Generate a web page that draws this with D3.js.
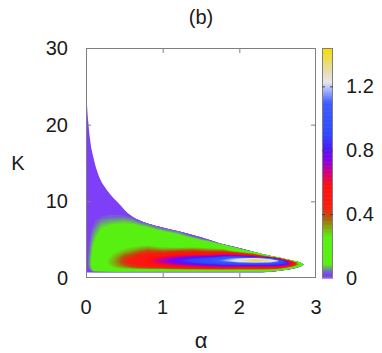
<!DOCTYPE html>
<html>
<head>
<meta charset="utf-8">
<script src="https://cdn.jsdelivr.net/npm/d3@7"></script>
<style>
  body { margin: 0; background: #fff; }
  svg { display: block; }
</style>
</head>
<body>
<svg id="chart" width="382" height="353"></svg>
<script>
// grid of the map: alpha columns, K rows
const alphaGrid = [0, 0.05, 0.1, 0.2, 0.3, 0.4, 0.5, 0.6, 0.7, 0.8, 1.0, 1.2, 1.4, 1.6, 1.8, 2.0, 2.2, 2.4, 2.5, 2.6, 2.7, 2.8, 2.9];
const kGrid = [0.75, 1.0, 1.25, 1.5, 1.75, 2.0, 2.25, 2.5, 2.75, 3.0, 3.5, 4.0, 4.5, 5.0, 5.5, 6.0, 6.5, 7.0, 7.5, 8.0, 9.0, 10, 30];

// one column of values (along kGrid) for each alpha
const zColumns = [
  [0.01, 0.01, 0.01, 0.01, 0.01, 0.01, 0.01, 0.01, 0.01, 0.01, 0.01, 0.01, 0.01, 0.01, 0.01, 0.01, 0.01, 0.01, 0.01, 0.01, 0.01, 0.01, 0.01],
  [0.01, 0.03, 0.05, 0.06, 0.065, 0.065, 0.065, 0.06, 0.06, 0.055, 0.05, 0.045, 0.04, 0.035, 0.03, 0.025, 0.02, 0.02, 0.02, 0.02, 0.02, 0.01, 0.01],
  [0.02, 0.1, 0.12, 0.13, 0.13, 0.13, 0.13, 0.13, 0.12, 0.12, 0.11, 0.1, 0.09, 0.075, 0.065, 0.055, 0.045, 0.035, 0.03, 0.02, 0.02, 0.01, 0.01],
  [0.02, 0.14, 0.18, 0.2, 0.2, 0.2, 0.2, 0.19, 0.19, 0.18, 0.17, 0.16, 0.15, 0.13, 0.12, 0.1, 0.085, 0.07, 0.05, 0.035, 0.02, 0.01, 0.01],
  [0.02, 0.16, 0.22, 0.25, 0.27, 0.28, 0.28, 0.27, 0.26, 0.25, 0.22, 0.2, 0.18, 0.16, 0.14, 0.12, 0.1, 0.08, 0.06, 0.04, 0.02, 0.01, 0.01],
  [0.02, 0.17, 0.26, 0.31, 0.33, 0.34, 0.34, 0.33, 0.32, 0.3, 0.26, 0.23, 0.2, 0.18, 0.16, 0.14, 0.12, 0.09, 0.065, 0.04, 0.02, 0.01, 0.01],
  [0.02, 0.17, 0.28, 0.35, 0.39, 0.41, 0.42, 0.41, 0.39, 0.36, 0.3, 0.25, 0.21, 0.19, 0.17, 0.15, 0.12, 0.09, 0.07, 0.04, 0.01, 0.01, 0.01],
  [0.02, 0.16, 0.31, 0.4, 0.44, 0.46, 0.47, 0.46, 0.43, 0.4, 0.33, 0.27, 0.22, 0.19, 0.17, 0.15, 0.12, 0.09, 0.06, 0.03, 0.01, 0.01, 0.01],
  [0.02, 0.16, 0.33, 0.43, 0.48, 0.51, 0.52, 0.51, 0.48, 0.44, 0.37, 0.29, 0.23, 0.19, 0.17, 0.14, 0.11, 0.07, 0.03, 0.01, 0.01, 0.01, 0.01],
  [0.02, 0.16, 0.35, 0.46, 0.52, 0.56, 0.57, 0.56, 0.53, 0.48, 0.4, 0.31, 0.23, 0.19, 0.16, 0.13, 0.1, 0.05, 0.01, 0.01, 0.01, 0.01, 0.01],
  [0.02, 0.15, 0.36, 0.5, 0.6, 0.67, 0.7, 0.67, 0.6, 0.5, 0.38, 0.27, 0.21, 0.17, 0.14, 0.1, 0.04, 0.01, 0.01, 0.01, 0.01, 0.01, 0.01],
  [0.02, 0.16, 0.4, 0.55, 0.68, 0.77, 0.82, 0.78, 0.68, 0.56, 0.4, 0.26, 0.19, 0.15, 0.11, 0.05, 0.01, 0.01, 0.01, 0.01, 0.01, 0.01, 0.01],
  [0.02, 0.16, 0.43, 0.6, 0.74, 0.86, 0.93, 0.88, 0.75, 0.6, 0.42, 0.27, 0.18, 0.12, 0.03, 0.01, 0.01, 0.01, 0.01, 0.01, 0.01, 0.01, 0.01],
  [0.02, 0.16, 0.45, 0.64, 0.8, 0.94, 1.02, 0.96, 0.8, 0.6, 0.38, 0.24, 0.14, 0.03, 0.01, 0.01, 0.01, 0.01, 0.01, 0.01, 0.01, 0.01, 0.01],
  [0.02, 0.16, 0.46, 0.68, 0.86, 1.02, 1.16, 1.1, 0.92, 0.66, 0.38, 0.18, 0.03, 0.01, 0.01, 0.01, 0.01, 0.01, 0.01, 0.01, 0.01, 0.01, 0.01],
  [0.02, 0.16, 0.44, 0.64, 0.88, 1.1, 1.3, 1.2, 0.92, 0.6, 0.2, 0.01, 0.01, 0.01, 0.01, 0.01, 0.01, 0.01, 0.01, 0.01, 0.01, 0.01, 0.01],
  [0.02, 0.16, 0.44, 0.64, 0.87, 1.12, 1.42, 1.28, 0.8, 0.42, 0.02, 0.01, 0.01, 0.01, 0.01, 0.01, 0.01, 0.01, 0.01, 0.01, 0.01, 0.01, 0.01],
  [0.02, 0.15, 0.42, 0.62, 0.85, 1.1, 1.34, 1.1, 0.35, 0.02, 0.01, 0.01, 0.01, 0.01, 0.01, 0.01, 0.01, 0.01, 0.01, 0.01, 0.01, 0.01, 0.01],
  [0.01, 0.1, 0.38, 0.6, 0.82, 1.02, 1.2, 0.6, 0.02, 0.01, 0.01, 0.01, 0.01, 0.01, 0.01, 0.01, 0.01, 0.01, 0.01, 0.01, 0.01, 0.01, 0.01],
  [0.01, 0.02, 0.2, 0.52, 0.78, 0.9, 0.7, 0.1, 0.01, 0.01, 0.01, 0.01, 0.01, 0.01, 0.01, 0.01, 0.01, 0.01, 0.01, 0.01, 0.01, 0.01, 0.01],
  [0.01, 0.01, 0.05, 0.3, 0.55, 0.55, 0.15, 0.01, 0.01, 0.01, 0.01, 0.01, 0.01, 0.01, 0.01, 0.01, 0.01, 0.01, 0.01, 0.01, 0.01, 0.01, 0.01],
  [0.01, 0.01, 0.01, 0.06, 0.18, 0.1, 0.02, 0.01, 0.01, 0.01, 0.01, 0.01, 0.01, 0.01, 0.01, 0.01, 0.01, 0.01, 0.01, 0.01, 0.01, 0.01, 0.01],
  [0.01, 0.01, 0.01, 0.01, 0.01, 0.01, 0.01, 0.01, 0.01, 0.01, 0.01, 0.01, 0.01, 0.01, 0.01, 0.01, 0.01, 0.01, 0.01, 0.01, 0.01, 0.01, 0.01]
];

// upper edge of the defined region
const edgeAlpha = [0, 0.01, 0.02, 0.03, 0.05, 0.1, 0.14, 0.18, 0.27, 0.36, 0.44, 0.56, 0.74, 0.96, 1.22, 1.5, 1.75, 2.0, 2.27, 2.53, 2.7, 2.8, 2.84];
const edgeTop = [28, 23.5, 21.5, 20.3, 18.3, 15.6, 14.1, 13, 11.5, 10.4, 9.6, 8.3, 7.35, 6.7, 6.05, 5.3, 4.5, 3.9, 3.2, 2.65, 2.26, 2.0, 1.75];
// lower edge
const floorAlpha = [0, 2.3, 2.5, 2.6, 2.7, 2.8, 2.84];
const floorK = [0.72, 0.72, 0.9, 1.05, 1.22, 1.5, 1.75];

const xTicks = [0, 1, 2, 3];
const yTicks = [0, 10, 20, 30];
const barTicks = [0, 0.4, 0.8, 1.2];
const zMax = 1.44;

// palette
const paletteStops = [0, 0.03, 0.09, 0.26, 0.33, 0.38, 0.44, 0.58, 0.66, 0.74, 0.82, 0.9, 1.1, 1.18, 1.23, 1.3, 1.44];
const paletteColors = ["#7d40f8", "#7d40f8", "#58f012", "#58f012", "#8c9a12", "#b05a10", "#f5200f", "#ff1010", "#d4007a", "#8a00e8", "#4a1cf8", "#3048ff", "#3c5cff", "#a8b4ff", "#e6e6ee", "#e6dcae", "#f6dc00"];

const svg = d3.select("#chart");
const font = "'Liberation Sans', Arial, sans-serif";

const x = d3.scaleLinear().domain([0, 3]).range([86, 316]);
const y = d3.scaleLinear().domain([0, 30]).range([278, 48]);
const color = d3.scaleLinear().domain(paletteStops).range(paletteColors).clamp(true);

const nA = alphaGrid.length, nK = kGrid.length;
const aIdx = d3.scaleLinear().domain(d3.range(nA)).range(alphaGrid);
const kIdx = d3.scaleLinear().domain(d3.range(nK)).range(kGrid);

// flatten: row = K index, column = alpha index
const values = new Array(nA * nK);
for (let j = 0; j < nK; j++)
  for (let i = 0; i < nA; i++)
    values[j * nA + i] = zColumns[i][j];

// clip to the region where the map is defined (smooth upper edge, straight floor)
const topPath = d3.line().curve(d3.curveMonotoneX)(edgeAlpha.map((a, i) => [x(a), y(edgeTop[i])]));
const floorPath = d3.line()(floorAlpha.map((a, i) => [x(a), y(floorK[i])]).reverse());
svg.append("clipPath").attr("id", "region")
  .append("path")
  .attr("d", topPath + "L" + floorPath.slice(1) + "Z");

const proj = d3.geoTransform({
  point(px, py) {
    const a = aIdx(Math.max(0, Math.min(nA - 1, px - 0.5)));
    const k = kIdx(Math.max(0, Math.min(nK - 1, py - 0.5)));
    this.stream.point(x(a), y(k));
  }
});
const path = d3.geoPath(proj);

const step = 0.01;
const thresholds = d3.range(0.015, zMax, step);
const contours = d3.contours().size([nA, nK]).thresholds(thresholds)(values);

const map = svg.append("g").attr("clip-path", "url(#region)");
map.append("rect")
  .attr("x", 80).attr("y", 40).attr("width", 240).attr("height", 240)
  .attr("fill", color(0.01));
map.selectAll("path")
  .data(contours)
  .join("path")
    .attr("d", path)
    .attr("fill", d => color(d.value + step / 2));

// frame and ticks
const frame = "#7f7f7f";
svg.append("rect")
  .attr("x", 86.5).attr("y", 48.5).attr("width", 229).attr("height", 229)
  .attr("fill", "none").attr("stroke", frame);

const tl = 5;
svg.append("g").selectAll("g")
  .data(xTicks.slice(1, -1))
  .join(enter => {
    const g = enter.append("g");
    g.append("line").attr("x1", d => x(d) + 0.5).attr("x2", d => x(d) + 0.5)
      .attr("y1", 278).attr("y2", 278 - tl);
    g.append("line").attr("x1", d => x(d) + 0.5).attr("x2", d => x(d) + 0.5)
      .attr("y1", 48).attr("y2", 48 + tl);
    return g;
  })
  .selectAll("line").attr("stroke", frame);

svg.append("g").selectAll("g")
  .data(yTicks.slice(1, -1))
  .join(enter => {
    const g = enter.append("g");
    g.append("line").attr("x1", 86).attr("x2", 86 + tl)
      .attr("y1", d => y(d) + 0.5).attr("y2", d => y(d) + 0.5);
    g.append("line").attr("x1", 316).attr("x2", 316 - tl)
      .attr("y1", d => y(d) + 0.5).attr("y2", d => y(d) + 0.5);
    return g;
  })
  .selectAll("line").attr("stroke", frame);

// tick labels
const txt = "#1a1a1a";
svg.append("g")
  .attr("font-family", font).attr("font-size", 20).attr("fill", txt)
  .attr("text-anchor", "middle")
  .selectAll("text").data(xTicks).join("text")
  .attr("x", d => x(d)).attr("y", 314)
  .text(d => d);

svg.append("g")
  .attr("font-family", font).attr("font-size", 20).attr("fill", txt)
  .attr("text-anchor", "end")
  .selectAll("text").data(yTicks).join("text")
  .attr("x", 68).attr("y", d => y(d) + 7)
  .text(d => d);

// axis titles
svg.append("text").attr("x", 201).attr("y", 348)
  .attr("font-family", font).attr("font-size", 22).attr("fill", txt)
  .attr("text-anchor", "middle").text("α");
svg.append("text").attr("x", 18).attr("y", 170)
  .attr("font-family", font).attr("font-size", 20).attr("fill", txt)
  .attr("text-anchor", "middle").text("K");
svg.append("text").attr("x", 201).attr("y", 24)
  .attr("font-family", font).attr("font-size", 20).attr("fill", txt)
  .attr("text-anchor", "middle").text("(b)");

// colour bar
const bx = 322, bw = 11;
const barY = d3.scaleLinear().domain([0, zMax]).range([278, 48]);
const bStep = 0.005;
svg.append("g").selectAll("rect")
  .data(d3.range(0, zMax, bStep))
  .join("rect")
    .attr("x", bx).attr("width", bw)
    .attr("y", d => barY(Math.min(zMax, d + bStep)))
    .attr("height", d => barY(d) - barY(Math.min(zMax, d + bStep)) + 0.6)
    .attr("fill", d => color(d + bStep / 2));
svg.append("rect")
  .attr("x", bx + 0.5).attr("y", 48.5).attr("width", bw - 1).attr("height", 229)
  .attr("fill", "none").attr("stroke", frame);
svg.append("g").selectAll("g")
  .data(barTicks.slice(1))
  .join(enter => {
    const g = enter.append("g");
    g.append("line").attr("x1", bx).attr("x2", bx + 3)
      .attr("y1", d => barY(d) + 0.5).attr("y2", d => barY(d) + 0.5);
    g.append("line").attr("x1", bx + bw).attr("x2", bx + bw - 3)
      .attr("y1", d => barY(d) + 0.5).attr("y2", d => barY(d) + 0.5);
    return g;
  })
  .selectAll("line").attr("stroke", "#444");
svg.append("g")
  .attr("font-family", font).attr("font-size", 20).attr("fill", txt)
  .selectAll("text").data(barTicks).join("text")
  .attr("x", 346).attr("y", d => barY(d) + 7)
  .text(d => d === 0 ? "0" : d.toFixed(1));
</script>
</body>
</html>
